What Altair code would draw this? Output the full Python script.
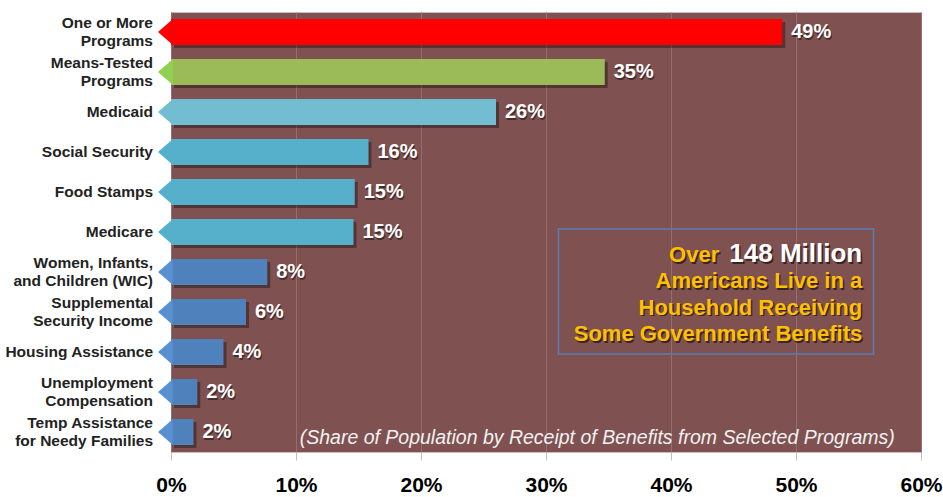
import altair as alt
import pandas as pd

categories = [
    "One or More|Programs",
    "Means-Tested|Programs",
    "Medicaid",
    "Social Security",
    "Food Stamps",
    "Medicare",
    "Women, Infants,|and Children (WIC)",
    "Supplemental|Security Income",
    "Housing Assistance",
    "Unemployment|Compensation",
    "Temp Assistance|for Needy Families",
]
values = [48.9, 34.7, 26.0, 15.8, 14.7, 14.6, 7.7, 6.0, 4.2, 2.1, 1.8]
value_labels = ["49%", "35%", "26%", "16%", "15%", "15%", "8%", "6%", "4%", "2%", "2%"]
bar_colors = ["#FF0000", "#9BBB59", "#72BDD1", "#57B0CB", "#57B0CB", "#57B0CB",
              "#4F81BD", "#4F81BD", "#4F81BD", "#4F81BD", "#4F81BD"]
tip_colors = ["#FF0000", "#92D050", "#72BDD1", "#57B0CB", "#57B0CB", "#57B0CB",
              "#5890D2", "#5890D2", "#5890D2", "#5890D2", "#5890D2"]
x_ticks = [0, 10, 20, 30, 40, 50, 60]

note_first_gold = "Over"
note_first_white = "148 Million"
note_lines = ["Americans Live in a", "Household Receiving", "Some Government Benefits"]
subtitle = "(Share of Population by Receipt of Benefits from Selected Programs)"

FONT = "Liberation Sans"

df = pd.DataFrame({
    "cat": categories,
    "value": values,
    "label": value_labels,
    "bar_color": bar_colors,
    "tip_color": tip_colors,
})
df["zero"] = 0

x_scale = alt.Scale(domain=[0, 60], nice=False, zero=True)
y_scale = alt.Scale(domain=categories, paddingInner=0.35, paddingOuter=0.175)

x_axis = alt.Axis(
    values=x_ticks, labelExpr="datum.value + '%'", title=None,
    grid=True, gridColor="#956F6F", gridWidth=1, labelFlush=False,
    domain=False, ticks=True, tickColor="#BFBFBF", tickSize=8,
    labelFont=FONT, labelFontWeight="bold", labelFontSize=21,
    labelColor="#000000", labelPadding=14,
)
y_axis = alt.Axis(title=None, domain=False, ticks=False, grid=False, labels=False)

base = alt.Chart(df)
Y = alt.Y("cat:N", scale=y_scale, axis=y_axis, sort=categories)

shadow = base.mark_bar(color="#000000", opacity=0.35, xOffset=3, yOffset=3).encode(
    x=alt.X("value:Q", scale=x_scale, axis=x_axis), y=Y
)
bars = base.mark_bar().encode(
    x=alt.X("value:Q", scale=x_scale, axis=x_axis), y=Y,
    color=alt.Color("bar_color:N", scale=None),
)
tips = base.mark_point(
    shape="M0.15,-1L-1,0L0.15,1Z", filled=True, size=676, opacity=1, strokeWidth=0
).encode(
    x=alt.X("zero:Q", scale=x_scale), y=Y,
    color=alt.Color("tip_color:N", scale=None),
)

# category labels (one or two lines)
lab = base.transform_calculate(
    parts="split(datum.cat, '|')"
).transform_calculate(
    n="length(datum.parts)", line1="datum.parts[0]",
    line2="length(datum.parts) > 1 ? datum.parts[1] : ''",
)

def cat_label(filter_expr, field, dy):
    return lab.transform_filter(filter_expr).mark_text(
        align="right", baseline="middle", dx=-18, dy=dy, font=FONT,
        fontWeight="bold", fontSize=15.5, color="#222222",
    ).encode(x=alt.X("zero:Q", scale=x_scale), y=Y, text=f"{field}:N")

lab_single = cat_label("datum.n == 1", "line1", 0)
lab_top = cat_label("datum.n == 2", "line1", -9)
lab_bot = cat_label("datum.n == 2", "line2", 9)

val_shadow = base.mark_text(
    align="left", baseline="middle", dx=10, dy=1.5, font=FONT, fontWeight="bold",
    fontSize=20, color="#000000", opacity=0.45,
).encode(x=alt.X("value:Q", scale=x_scale), y=Y, text="label:N")
val_text = base.mark_text(
    align="left", baseline="middle", dx=9, font=FONT, fontWeight="bold",
    fontSize=20, color="#FFFFFF",
).encode(x=alt.X("value:Q", scale=x_scale), y=Y, text="label:N")

one = alt.InlineData(values=[{}])

box = alt.Chart(one).mark_rect(filled=False, stroke="#5A7DB5", strokeWidth=1.5).encode(
    x=alt.datum(31.0), x2=alt.datum(56.2), y=alt.value(217), y2=alt.value(342)
)

def txt(text, x, y, color, size, dx=0, sh=False):
    return alt.Chart(one).mark_text(
        align="right", baseline="alphabetic", font=FONT, fontWeight="bold",
        fontSize=size, color="#000000" if sh else color, opacity=0.55 if sh else 1,
        dx=dx + (1.5 if sh else 0), dy=1.5 if sh else 0, lineHeight=26.5,
    ).encode(x=alt.datum(x), y=alt.value(y), text=alt.value(text))

note_layers = []
for sh in (True, False):
    note_layers.append(txt(note_first_white, 55.3, 250, "#FFFFFF", 26, sh=sh))
    note_layers.append(txt(note_first_gold, 55.3, 250, "#FFC000", 22, dx=-143, sh=sh))
    note_layers.append(txt(note_lines, 55.3, 276, "#FFC000", 22, sh=sh))

sub = alt.Chart(one).mark_text(
    align="right", baseline="middle", font=FONT,
    fontStyle="italic", fontSize=19.5, color="#F2F2F2",
).encode(x=alt.datum(57.9), y=alt.value(426), text=alt.value(subtitle))

chart = alt.layer(
    shadow, bars, tips, lab_single, lab_top, lab_bot, val_shadow, val_text,
    box, *note_layers, sub
).properties(
    width=750, height=440,
    autosize=alt.AutoSizeParams(type="none"),
    padding={"left": 171, "top": 12, "right": 22, "bottom": 45},
    background="#FFFFFF",
).configure_view(fill="#805151", stroke="#C8BEBE", strokeWidth=1)

chart.save("out.html", embed_options={"renderer": "svg", "actions": False})
